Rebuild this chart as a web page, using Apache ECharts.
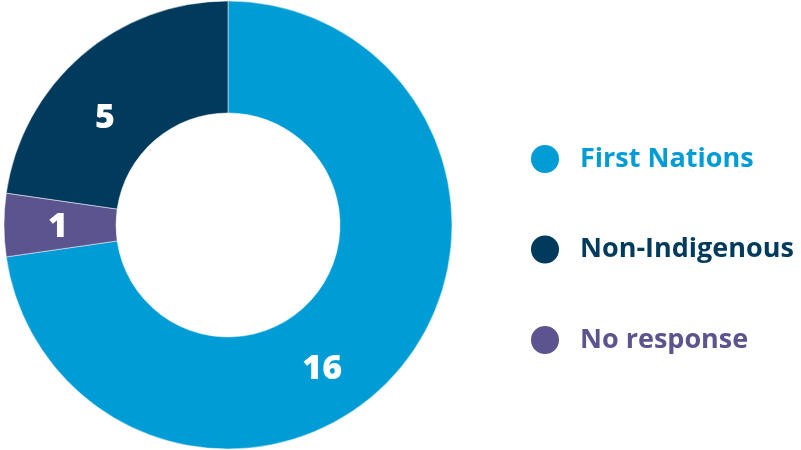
<!DOCTYPE html>
<html>
<head>
<meta charset="utf-8">
<script src="https://cdn.jsdelivr.net/npm/echarts@6/dist/echarts.min.js"></script>
<style>
  html, body { margin: 0; padding: 0; background: #ffffff; }
  #chart { width: 801px; height: 450px; }
</style>
</head>
<body>
<div id="chart"></div>
<script>
// Respondents by identity
const categories = ['First Nations', 'No response', 'Non-Indigenous'];
const counts = [16, 1, 5];
const colors = ['#009cd6', '#5b548f', '#003a5c'];
// Legend order as listed beside the ring
const legendOrder = ['First Nations', 'Non-Indigenous', 'No response'];
// Nudges for the value labels inside each slice
const labelOffsets = [[-35, 32], [1, 2], [-11, 23]];

const chart = echarts.init(document.getElementById('chart'));

const pieData = categories.map((name, i) => ({
  name: name,
  value: counts[i],
  itemStyle: { color: colors[i] },
  label: { offset: labelOffsets[i] }
}));

const legendData = legendOrder.map(name => {
  const i = categories.indexOf(name);
  return { name: name, textStyle: { color: colors[i] } };
});

chart.setOption({
  animation: false,
  legend: {
    orient: 'vertical',
    left: 524,
    top: 138,
    icon: 'circle',
    itemWidth: 32,
    itemHeight: 30,
    itemGap: 58.5,
    selectedMode: false,
    data: legendData,
    textStyle: {
      fontFamily: 'Open Sans',
      fontWeight: 700,
      fontSize: 27,
      lineHeight: 30,
      padding: [0, 0, 0, 14]
    }
  },
  series: [{
    type: 'pie',
    center: [228, 225],
    radius: [112, 224],
    startAngle: 90,
    clockwise: true,
    avoidLabelOverlap: false,
    itemStyle: { borderColor: '#ffffff', borderWidth: 0.5 },
    label: {
      show: true,
      position: 'inside',
      formatter: '{c}',
      color: '#ffffff',
      fontFamily: 'Open Sans',
      fontWeight: 800,
      fontSize: 34
    },
    labelLine: { show: false },
    emphasis: { disabled: true },
    data: pieData
  }]
});
</script>
</body>
</html>
